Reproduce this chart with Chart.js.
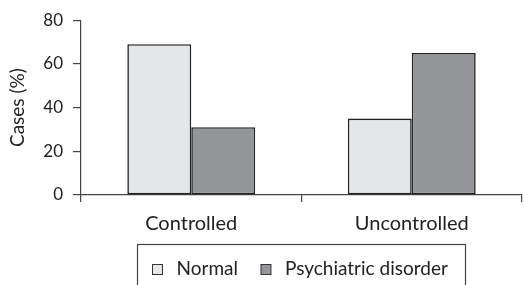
<!DOCTYPE html>
<html>
<head>
<meta charset="utf-8">
<script src="https://cdn.jsdelivr.net/npm/chart.js@4"></script>
<style>
html,body{margin:0;padding:0;background:#fff;}
#wrap{width:524px;height:285px;position:relative;}
</style>
</head>
<body>
<div id="wrap"><canvas id="c" width="524" height="285"></canvas></div>
<script>
const categories = ["Controlled", "Uncontrolled"];
const seriesNames = ["Normal", "Psychiatric disorder"];
const normalValues = [69, 35];
const psychValues = [31, 65];
const yTicks = [0, 20, 40, 60, 80];

const FONT = "Lato";
const TXT = "#222";

const legendPlugin = {
  id: 'customLegend',
  afterDraw(chart) {
    const ctx = chart.ctx;
    ctx.save();
    ctx.strokeStyle = '#444';
    ctx.lineWidth = 1.2;
    ctx.strokeRect(137.5, 244.5, 328, 60);
    ctx.font = '19px ' + FONT;
    ctx.fillStyle = TXT;
    ctx.textBaseline = 'alphabetic';
    let x = 152.5;
    chart.data.datasets.forEach((d) => {
      ctx.fillStyle = d.backgroundColor;
      ctx.fillRect(x, 264.5, 10, 10);
      ctx.strokeStyle = '#333';
      ctx.lineWidth = 1;
      ctx.strokeRect(x, 264.5, 10, 10);
      ctx.fillStyle = TXT;
      const tx = x + 24;
      ctx.fillText(d.label, tx, 275);
      x = tx + ctx.measureText(d.label).width + 23;
    });
    ctx.restore();
  }
};

new Chart(document.getElementById('c'), {
  type: 'bar',
  data: {
    labels: categories,
    datasets: [
      { label: seriesNames[0], data: normalValues, backgroundColor: '#e5e6e8', borderColor: '#222', borderWidth: 1.6, borderSkipped: false },
      { label: seriesNames[1], data: psychValues, backgroundColor: '#939598', borderColor: '#222', borderWidth: 1.6, borderSkipped: false }
    ]
  },
  options: {
    responsive: false,
    animation: false,
    devicePixelRatio: 1,
    layout: { padding: { left: 0, right: 2, top: 15, bottom: 55 } },
    categoryPercentage: 0.58,
    barPercentage: 1.0,
    plugins: {
      tooltip: { enabled: false },
      legend: { display: false }
    },
    scales: {
      x: {
        offset: true,
        afterFit(axis) { axis.height = 35; },
        grid: { offset: true, drawOnChartArea: false, drawTicks: true, tickLength: 7, color: '#444', lineWidth: 1.2 },
        border: { color: '#444', width: 1.2 },
        ticks: { font: { family: FONT, size: 20 }, color: TXT, padding: 10 }
      },
      y: {
        min: 0, max: 80,
        afterBuildTicks(axis) { axis.ticks = yTicks.map(v => ({ value: v })); },
        afterFit(axis) { axis.width = 81; },
        grid: { drawOnChartArea: false, drawTicks: true, tickLength: 8, color: '#444', lineWidth: 1.2 },
        border: { color: '#444', width: 1.2 },
        ticks: { font: { family: FONT, size: 17 }, color: TXT, padding: 10 },
        title: { display: true, text: 'Cases (%)', font: { family: FONT, size: 19 }, color: TXT, padding: { top: 6, bottom: 4 } }
      }
    }
  },
  plugins: [legendPlugin]
});
</script>
</body>
</html>
